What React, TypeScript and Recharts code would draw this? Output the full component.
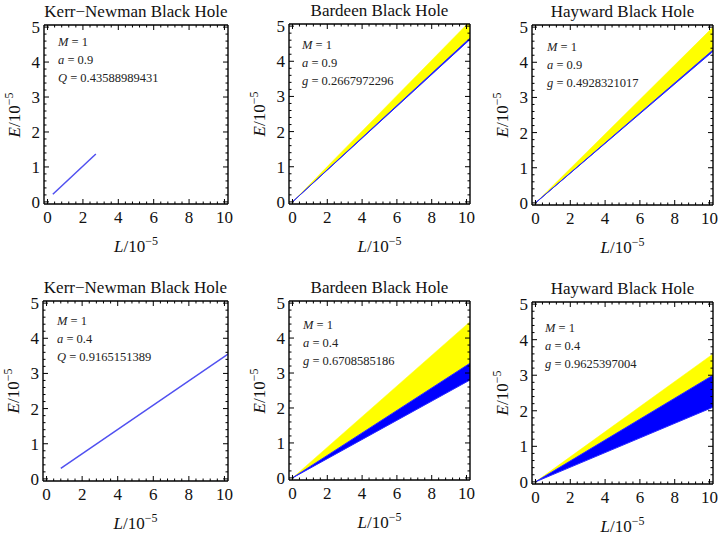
import { Area, ComposedChart, Line, XAxis, YAxis } from 'recharts';

const FONT = '"Liberation Serif", "Times New Roman", serif';

// axis ticks (Mathematica style: majors labelled, minors in between)
const xMajorTicks = [0, 2, 4, 6, 8, 10];
const yMajorTicks = [0, 1, 2, 3, 4, 5];
const xAllTicks = Array.from({ length: 26 }, (_, i) => +(i * 0.4).toFixed(2));
const yAllTicks = Array.from({ length: 26 }, (_, i) => +(i * 0.2).toFixed(2));

// Kerr-Newman curves (L, E)
const knTopL = [0.3, 2.73];
const knTopE = [0.22, 1.37];
const knBottomL = [0.8, 10.2];
const knBottomE = [0.3, 3.55];

// band panels: L at both ends, edges of the blue and yellow regions
const bandL = [0, 10.2];
const bardeenTopBlueLow = [0, 4.62];
const bardeenTopBlueHigh = [0, 4.66];
const bardeenTopYellowHigh = [0, 5.14];
const haywardTopBlueLow = [0, 4.31];
const haywardTopBlueHigh = [0, 4.35];
const haywardTopYellowHigh = [0, 5.0];
const bardeenBottomBlueLow = [0, 2.8];
const bardeenBottomBlueHigh = [0, 3.28];
const bardeenBottomYellowHigh = [0, 4.47];
const haywardBottomBlueLow = [0, 2.1];
const haywardBottomBlueHigh = [0, 3.0];
const haywardBottomYellowHigh = [0, 3.6];

const lineRows = (L: number[], E: number[]) => L.map((l, i) => ({ L: l, line: E[i] }));
const bandRows = (low: number[], high: number[], top: number[]) =>
  bandL.map((l, i) => ({ L: l, blue: [low[i], high[i]], yellow: [high[i], top[i]] }));

type Panel = {
  title: string;
  frame: [number, number, number, number];
  note: [number, number];
  params: [string, string][];
  kind: 'line' | 'band';
  data: any[];
};

const panels: Panel[] = [
  {
    title: 'Kerr\u2212Newman Black Hole', frame: [44, 25, 184, 179], note: [14, 17],
    params: [['M', '1'], ['a', '0.9'], ['Q', '0.43588989431']],
    kind: 'line', data: lineRows(knTopL, knTopE),
  },
  {
    title: 'Bardeen Black Hole', frame: [289, 24, 181, 180], note: [13, 21],
    params: [['M', '1'], ['a', '0.9'], ['g', '0.2667972296']],
    kind: 'band', data: bandRows(bardeenTopBlueLow, bardeenTopBlueHigh, bardeenTopYellowHigh),
  },
  {
    title: 'Hayward Black Hole', frame: [532, 25, 181, 180], note: [15, 22],
    params: [['M', '1'], ['a', '0.9'], ['g', '0.4928321017']],
    kind: 'band', data: bandRows(haywardTopBlueLow, haywardTopBlueHigh, haywardTopYellowHigh),
  },
  {
    title: 'Kerr\u2212Newman Black Hole', frame: [43, 301, 185, 180], note: [14, 20],
    params: [['M', '1'], ['a', '0.4'], ['Q', '0.9165151389']],
    kind: 'line', data: lineRows(knBottomL, knBottomE),
  },
  {
    title: 'Bardeen Black Hole', frame: [289, 301, 181, 179], note: [14, 24],
    params: [['M', '1'], ['a', '0.4'], ['g', '0.6708585186']],
    kind: 'band', data: bandRows(bardeenBottomBlueLow, bardeenBottomBlueHigh, bardeenBottomYellowHigh),
  },
  {
    title: 'Hayward Black Hole', frame: [532, 302, 181, 182], note: [13, 26],
    params: [['M', '1'], ['a', '0.4'], ['g', '0.9625397004']],
    kind: 'band', data: bandRows(haywardBottomBlueLow, haywardBottomBlueHigh, haywardBottomYellowHigh),
  },
];

const isMajor = (v: number, majors: number[]) => majors.some((m) => Math.abs(m - v) < 1e-6);

function BottomTick({ x, y, payload }: any) {
  const major = isMajor(payload.value, xMajorTicks);
  return (
    <g>
      <line x1={x} x2={x} y1={y} y2={y - (major ? 5 : 2.5)} stroke="#000" />
      {major && (
        <text x={x} y={y + 19} textAnchor="middle" fontSize={17} fontFamily={FONT} fill="#111">
          {payload.value}
        </text>
      )}
    </g>
  );
}

function TopTick({ x, y, payload }: any) {
  const major = isMajor(payload.value, xMajorTicks);
  return <line x1={x} x2={x} y1={y} y2={y + (major ? 5 : 2.5)} stroke="#000" />;
}

function LeftTick({ x, y, payload }: any) {
  const major = isMajor(payload.value, yMajorTicks);
  return (
    <g>
      <line x1={x} x2={x + (major ? 5 : 2.5)} y1={y} y2={y} stroke="#000" />
      {major && (
        <text x={x - 4} y={y + 6} textAnchor="end" fontSize={17} fontFamily={FONT} fill="#111">
          {payload.value}
        </text>
      )}
    </g>
  );
}

function RightTick({ x, y, payload }: any) {
  const major = isMajor(payload.value, yMajorTicks);
  return <line x1={x} x2={x - (major ? 5 : 2.5)} y1={y} y2={y} stroke="#000" />;
}

const axisLine = { stroke: '#000', strokeWidth: 1.4 };

function PanelChart({ p }: { p: Panel }) {
  const [fl, ft, fw, fh] = p.frame;
  const padL = 44;
  const padT = 25;
  const padB = 45;
  const padR = 8;
  return (
    <>
      <div style={{ position: 'absolute', left: fl - padL, top: ft - padT }}>
        <ComposedChart
          width={fw + padL + padR}
          height={fh + padT + padB}
          data={p.data}
          margin={{ top: 0, right: 0, bottom: 0, left: 0 }}
        >
          <XAxis
            dataKey="L" type="number" domain={[-0.2, 10.2]} allowDataOverflow
            ticks={xAllTicks} interval={0} height={padB} tickSize={0} tickMargin={0}
            tickLine={false} axisLine={axisLine} tick={<BottomTick />}
          />
          <XAxis
            xAxisId="top" orientation="top" dataKey="L" type="number" domain={[-0.2, 10.2]}
            allowDataOverflow ticks={xAllTicks} interval={0} height={padT} tickSize={0}
            tickMargin={0} tickLine={false} axisLine={axisLine} tick={<TopTick />}
          />
          <YAxis
            type="number" domain={[-0.06, 5.06]} allowDataOverflow ticks={yAllTicks} interval={0}
            width={padL} tickSize={0} tickMargin={0} tickLine={false} axisLine={axisLine}
            tick={<LeftTick />}
          />
          <YAxis
            yAxisId="right" orientation="right" type="number" domain={[-0.06, 5.06]}
            allowDataOverflow ticks={yAllTicks} interval={0} width={padR} tickSize={0}
            tickMargin={0} tickLine={false} axisLine={axisLine} tick={<RightTick />}
          />
          {p.kind === 'band' && (
            <Area
              type="linear" dataKey="yellow" fill="#ffff00" fillOpacity={1} stroke="#ffff00"
              strokeWidth={0.5} dot={false} activeDot={false} isAnimationActive={false}
            />
          )}
          {p.kind === 'band' && (
            <Area
              type="linear" dataKey="blue" fill="#0000ff" fillOpacity={1} stroke="#2a2aff"
              strokeWidth={1} dot={false} activeDot={false} isAnimationActive={false}
            />
          )}
          {p.kind === 'line' && (
            <Line
              type="linear" dataKey="line" stroke="#5050f0" strokeWidth={1.5} dot={false}
              activeDot={false} isAnimationActive={false}
            />
          )}
        </ComposedChart>
      </div>
      <div
        style={{
          position: 'absolute', left: fl + fw / 2, top: ft - 14, transform: 'translate(-50%, -50%)',
          fontFamily: FONT, fontSize: 17, whiteSpace: 'nowrap', lineHeight: 1, color: '#111',
        }}
      >
        {p.title}
      </div>
      <div
        style={{
          position: 'absolute', left: fl + fw / 2, top: ft + fh + 42, transform: 'translate(-50%, -50%)',
          fontFamily: FONT, fontSize: 17, whiteSpace: 'nowrap', lineHeight: 1, color: '#111',
        }}
      >
        <i>L</i>/10<span style={{ fontSize: 12, position: 'relative', top: -7 }}>{'\u22125'}</span>
      </div>
      <div
        style={{
          position: 'absolute', left: fl - 30, top: ft + fh / 2,
          transform: 'translate(-50%, -50%) rotate(-90deg)',
          fontFamily: FONT, fontSize: 17, whiteSpace: 'nowrap', lineHeight: 1, color: '#111',
        }}
      >
        <i>E</i>/10<span style={{ fontSize: 12, position: 'relative', top: -7 }}>{'\u22125'}</span>
      </div>
      {p.params.map(([k, v], i) => (
        <div
          key={k}
          style={{
            position: 'absolute', left: fl + p.note[0], top: ft + p.note[1] + i * 18,
            transform: 'translateY(-50%)', fontFamily: FONT, fontSize: 12.5,
            whiteSpace: 'nowrap', lineHeight: 1, color: '#222',
          }}
        >
          <i>{k}</i> = {v}
        </div>
      ))}
    </>
  );
}

export default function App() {
  return (
    <div style={{ position: 'absolute', left: 0, top: 0, width: 720, height: 538, background: '#fff' }}>
      {panels.map((p, i) => (
        <PanelChart key={i} p={p} />
      ))}
    </div>
  );
}
